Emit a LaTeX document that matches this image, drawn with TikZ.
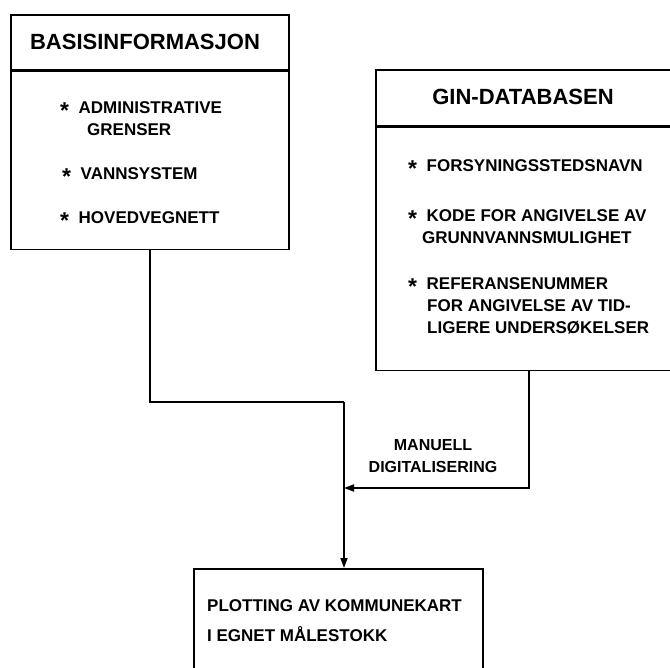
\documentclass[tikz,border=0pt]{standalone}
\usepackage{fontspec}
\setmainfont{Liberation Sans}
\usetikzlibrary{arrows.meta,positioning}
\newcommand{\bul}{\makebox[18.5pt][l]{\raisebox{-0.3em}{\scalebox{1.35}{*}}}}

\begin{document}
\begin{tikzpicture}[x=1pt, y=-1pt,
    box/.style={rectangle, draw, line width=1.7pt, inner sep=0pt, anchor=north west},
    title/.style={font=\fontsize{22}{26}\selectfont\bfseries, inner sep=0pt},
    entry/.style={font=\fontsize{17}{22}\selectfont\bfseries, align=left, anchor=north west, inner sep=0pt},
    link/.style={line width=1.7pt},
    >={Triangle[length=10pt,width=7pt]}
]
\clip (0,0) rectangle (670,668);
% basisinformasjon
\node[box, minimum width=278pt, minimum height=55pt] (basishead) at (10,14) {};
\node[box, minimum width=278pt, minimum height=178pt] (basisbody) at (basishead.south west) {};
\node[title] (basistitle) at (145,42) {BASISINFORMASJON};
\node[entry] (admin) at (60,101) {\bul ADMINISTRATIVE\\\hspace*{27pt}GRENSER};
\node[entry] (vann) at (62,167) {\bul VANNSYSTEM};
\node[entry] (veg) at (60,211) {\bul HOVEDVEGNETT};
% gin-databasen
\node[box, minimum width=306pt, minimum height=56pt] (ginhead) at (375,69) {};
\node[box, minimum width=306pt, minimum height=243pt] (ginbody) at (ginhead.south west) {};
\node[title] (gintitle) at (523,97) {GIN-DATABASEN};
\node[entry] (navn) at (408,159) {\bul FORSYNINGSSTEDSNAVN};
\node[entry] (kode) at (408,209) {\bul KODE FOR ANGIVELSE AV\\\hspace*{14pt}GRUNNVANNSMULIGHET};
\node[entry] (ref) at (408,277) {\bul REFERANSENUMMER\\\hspace*{19pt}FOR ANGIVELSE AV TID-\\\hspace*{19pt}LIGERE UNDERSØKELSER};
% plotting
\node[box, minimum width=289pt, minimum height=140pt] (plot) at (193,568) {};
\node[entry] (plottext) at (207,599) {PLOTTING AV KOMMUNEKART\\[8pt]I EGNET MÅLESTOKK};
% connectors
\coordinate (join) at (344,402);
\coordinate (merge) at (344,488);
\draw[link] (basisbody.south) |- (join);
\draw[link, ->] (join) -- (join |- plot.north);
\draw[link, ->] (ginbody.south) |- (merge);
\node[font=\fontsize{16}{22}\selectfont\bfseries, align=center] (manuell) at (433,456) {MANUELL\\DIGITALISERING};
\end{tikzpicture}
\end{document}
